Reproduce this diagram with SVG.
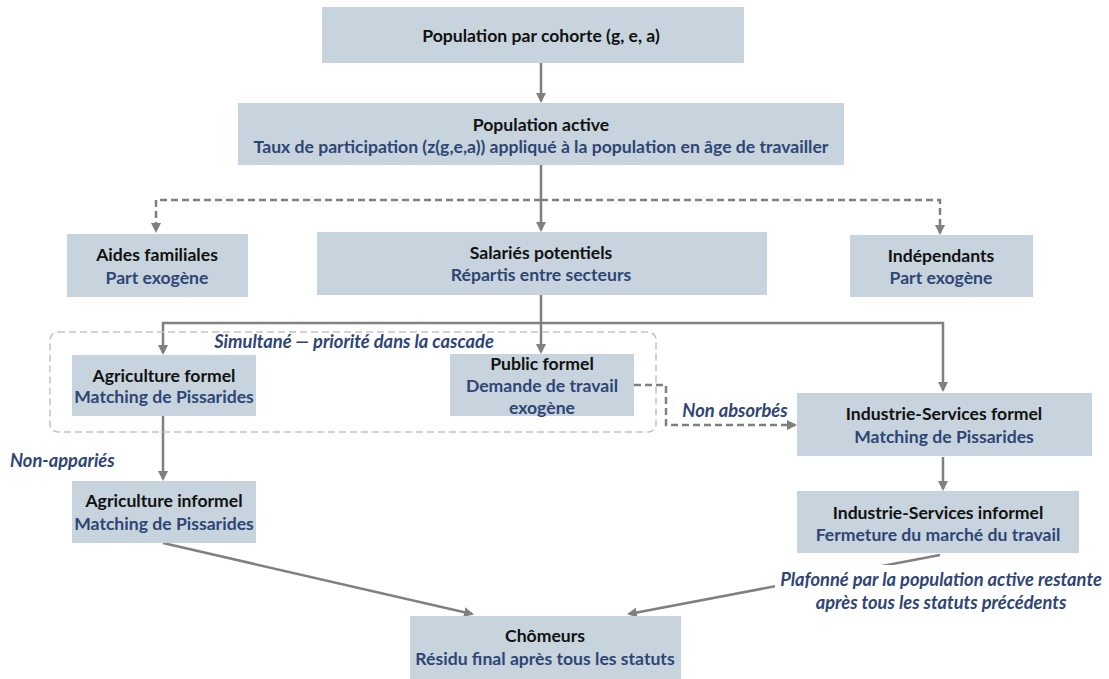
<svg xmlns="http://www.w3.org/2000/svg" width="1109" height="679" viewBox="0 0 1109 679">
<defs>
<style>
.box{fill:#c7d4dd}
.t{font-family:Lato,"Liberation Sans",sans-serif;font-weight:bold;font-size:17.6px;text-anchor:middle}
.h{fill:#111}
.s{fill:#2e4576}
.i{font-family:Lato,"Liberation Sans",sans-serif;font-weight:bold;font-style:italic;font-size:18.3px;fill:#2e4576}
.c{fill:none;stroke:#808080;stroke-width:2.5}
.d{fill:none;stroke:#808080;stroke-width:2.5;stroke-dasharray:7 4}
</style>
<marker id="ah" markerWidth="10" markerHeight="10" refX="8" refY="5" orient="auto" markerUnits="userSpaceOnUse" viewBox="0 0 10 10">
<path d="M0,0 L10,5 L0,10 Z" fill="#808080"/>
</marker>
</defs>
<rect width="1109" height="679" fill="#fff"/>

<g id="connectors">
<line class="c" x1="541" y1="63" x2="541" y2="101" marker-end="url(#ah)"/>
<line class="c" x1="541" y1="165" x2="541" y2="230" marker-end="url(#ah)"/>
<path class="d" d="M541,200 H156 V231" marker-end="url(#ah)"/>
<path class="d" d="M541,200 H940 V233" marker-end="url(#ah)"/>
<line class="c" x1="541" y1="295" x2="541" y2="352" marker-end="url(#ah)"/>
<path class="c" d="M541,323 H163 V353" marker-end="url(#ah)"/>
<path class="c" d="M541,323 H943 V390" marker-end="url(#ah)"/>
<path class="d" d="M634,385 H666 V425 H795" marker-end="url(#ah)"/>
<line class="c" x1="163" y1="416" x2="163" y2="479" marker-end="url(#ah)"/>
<line class="c" x1="943" y1="457" x2="943" y2="489" marker-end="url(#ah)"/>
<line class="c" x1="163" y1="543" x2="472" y2="614" marker-end="url(#ah)"/>
<line class="c" x1="940" y1="555" x2="629" y2="614" marker-end="url(#ah)"/>
</g>

<g id="cascade">
<rect x="50" y="332" width="606" height="100" rx="8" fill="none" stroke="#c4c4c4" stroke-width="1.5" stroke-dasharray="7 4"/>
<text class="i" x="354" y="348" text-anchor="middle">Simultané — priorité dans la cascade</text>
</g>

<g id="n1"><rect class="box" x="322" y="7" width="422" height="56"/>
<text class="t h" x="541" y="42">Population par cohorte (g, e, a)</text></g>

<g id="n2"><rect class="box" x="238" y="103" width="606" height="62"/>
<text class="t h" x="541" y="131">Population active</text>
<text class="t s" x="541" y="153">Taux de participation (z(g,e,a)) appliqué à la population en âge de travailler</text></g>

<g id="n3"><rect class="box" x="67" y="234" width="181" height="63"/>
<text class="t h" x="157" y="261">Aides familiales</text>
<text class="t s" x="157" y="284">Part exogène</text></g>

<g id="n4"><rect class="box" x="317" y="232" width="450" height="63"/>
<text class="t h" x="541" y="259">Salariés potentiels</text>
<text class="t s" x="541" y="281">Répartis entre secteurs</text></g>

<g id="n5"><rect class="box" x="850" y="235" width="183" height="62"/>
<text class="t h" x="941" y="262">Indépendants</text>
<text class="t s" x="941" y="284">Part exogène</text></g>

<g id="n6"><rect class="box" x="72" y="355" width="184" height="61"/>
<text class="t h" x="164" y="382">Agriculture formel</text>
<text class="t s" x="164" y="403">Matching de Pissarides</text></g>

<g id="n7"><rect class="box" x="450" y="354" width="184" height="62"/>
<text class="t h" x="542" y="370">Public formel</text>
<text class="t s" x="542" y="392">Demande de travail</text>
<text class="t s" x="542" y="414">exogène</text></g>

<g id="n8"><rect class="box" x="797" y="393" width="295" height="63"/>
<text class="t h" x="944" y="420">Industrie-Services formel</text>
<text class="t s" x="944" y="443">Matching de Pissarides</text></g>

<g id="n9"><rect class="box" x="72" y="481" width="184" height="62"/>
<text class="t h" x="164" y="507">Agriculture informel</text>
<text class="t s" x="164" y="530">Matching de Pissarides</text></g>

<g id="n10"><rect class="box" x="797" y="491" width="282" height="62"/>
<text class="t h" x="938" y="519">Industrie-Services informel</text>
<text class="t s" x="938" y="541">Fermeture du marché du travail</text></g>

<g id="n11"><rect class="box" x="410" y="616" width="271" height="63"/>
<text class="t h" x="545" y="642">Chômeurs</text>
<text class="t s" x="545" y="665">Résidu final après tous les statuts</text></g>

<g id="labels">
<text class="i" x="735" y="417" text-anchor="middle">Non absorbés</text>
<text class="i" x="10" y="467">Non-appariés</text>
<rect x="775" y="565" width="332" height="46" fill="#fff"/>
<text class="i" x="941" y="586" text-anchor="middle">Plafonné par la population active restante</text>
<text class="i" x="941" y="609" text-anchor="middle">après tous les statuts précédents</text>
</g>
</svg>
